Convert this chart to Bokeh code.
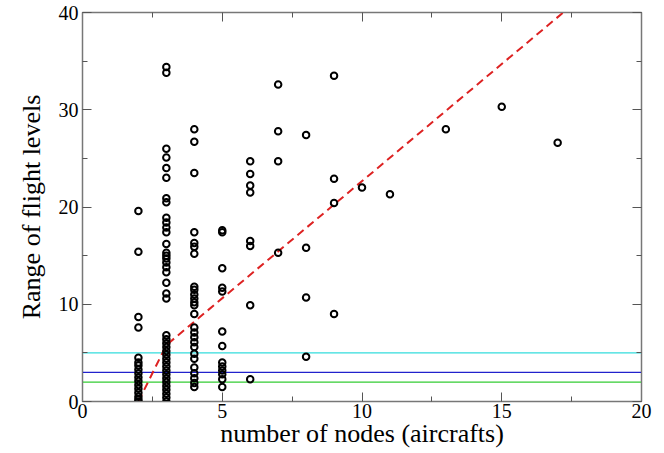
from bokeh.plotting import figure
from bokeh.models import LinearAxis, Range1d, FixedTicker
from bokeh.embed import file_html
from bokeh.resources import INLINE

# data: range of flight levels per number of nodes
y_n2 = [19.6, 15.4, 8.7, 7.6, 4.5, 4.0, 3.7, 3.3, 2.9, 2.5, 2.1, 1.7, 1.3, 0.9, 0.5, 0.2, 0.0]
y_n3 = [34.4, 33.8, 26.0, 25.1, 24.0, 23.0, 20.9, 20.5, 18.9, 18.4, 17.9, 17.4, 16.2, 15.3,
        15.0, 14.7, 14.3, 13.8, 13.3, 12.2, 11.1, 10.6,
        6.8, 6.4, 6.0, 5.6, 5.2, 4.8, 4.4, 4.0, 3.6, 3.2, 2.8, 2.4, 2.0, 1.6, 1.2, 0.8, 0.4, 0.0]
y_n4 = [28.0, 26.7, 23.5, 17.4, 16.3, 15.9, 15.2, 11.8, 11.5, 11.0, 10.6, 10.2, 9.9, 9.0,
        7.6, 7.1, 6.6, 6.1, 5.6, 4.9, 4.4, 3.5, 2.9, 2.4, 1.9, 1.5]
y_n5 = [17.6, 17.4, 13.7, 11.7, 11.3, 7.2, 5.7, 4.0, 3.6, 3.2, 2.8, 2.3, 1.5]
y_n6 = [24.7, 23.4, 22.2, 21.5, 16.5, 16.0, 9.9, 2.3]
y_n7 = [32.6, 27.8, 24.7, 15.3]
y_n8 = [27.4, 15.8, 10.7, 4.6]
y_n9 = [33.5, 22.9, 20.4, 9.0]
y_n10 = [22.0]
y_n11 = [21.3]
y_n13 = [28.0]
y_n15 = [30.3]
y_n17 = [26.6]

groups = {2: y_n2, 3: y_n3, 4: y_n4, 5: y_n5, 6: y_n6, 7: y_n7, 8: y_n8, 9: y_n9,
          10: y_n10, 11: y_n11, 13: y_n13, 15: y_n15, 17: y_n17}

# dashed fit line vertices
fit_x = [2.0, 3.0, 17.2]
fit_y = [0.0, 5.8, 40.0]

# horizontal reference levels
ref_levels = [5.0, 3.0, 2.0]
ref_colors = ["#33dddd", "#2222cc", "#33cc33"]

x_ticks = [0, 5, 10, 15, 20]
x_minor = [2.5, 7.5, 12.5, 17.5]
y_ticks = [0, 10, 20, 30, 40]
y_minor = [5, 15, 25, 35]

xs, ys = [], []
for n, vals in groups.items():
    xs += [n] * len(vals)
    ys += vals

p = figure(frame_width=559, frame_height=389, output_backend="svg", toolbar_location=None,
           x_range=Range1d(0, 20), y_range=Range1d(0, 40),
           min_border_left=82, min_border_top=12, min_border_right=14, min_border_bottom=44)
p.grid.visible = False
p.outline_line_color = "#777777"
p.outline_line_width = 1.5
p.background_fill_color = "white"
p.border_fill_color = "white"

for lvl, col in zip(ref_levels, ref_colors):
    p.line([0, 20], [lvl, lvl], line_color=col, line_width=1.3)

p.line(fit_x, fit_y, line_color="#dd2222", line_width=2, line_dash="8 5")

p.scatter(xs, ys, marker="circle", size=6.5, fill_color=None, line_color="black", line_width=2)

serif = "Liberation Serif"
for ax in (p.xaxis[0], p.yaxis[0]):
    ax.axis_line_color = "#777777"
    ax.major_tick_line_color = "#555555"
    ax.minor_tick_line_color = "#555555"
    ax.major_tick_in = 9
    ax.major_tick_out = 0
    ax.minor_tick_in = 5
    ax.minor_tick_out = 0
    ax.major_label_text_font = serif
    ax.major_label_text_font_size = "20px"
    ax.major_label_text_color = "black"
    ax.axis_label_text_font = serif
    ax.axis_label_text_font_size = "26px"
    ax.axis_label_text_font_style = "normal"
    ax.axis_label_text_color = "black"

p.xaxis.ticker = FixedTicker(ticks=x_ticks, minor_ticks=x_minor)
p.yaxis.ticker = FixedTicker(ticks=y_ticks, minor_ticks=y_minor)
p.xaxis.axis_label = "number of nodes (aircrafts)"
p.yaxis.axis_label = "Range of flight levels"
p.xaxis.major_label_standoff = 2
p.xaxis.axis_label_standoff = -2
p.yaxis.major_label_standoff = 4
p.yaxis.axis_label_standoff = 10

for loc, ticks, minors in (("right", y_ticks, y_minor), ("above", x_ticks, x_minor)):
    ax = LinearAxis(ticker=FixedTicker(ticks=ticks, minor_ticks=minors),
                    major_label_overrides={t: "" for t in ticks}, major_label_standoff=0)
    ax.axis_line_color = "#777777"
    ax.major_tick_line_color = "#555555"
    ax.minor_tick_line_color = "#555555"
    ax.major_tick_in = 9
    ax.major_tick_out = 0
    ax.minor_tick_in = 5
    ax.minor_tick_out = 0
    p.add_layout(ax, loc)

open("out.html", "w").write(file_html(p, INLINE))
